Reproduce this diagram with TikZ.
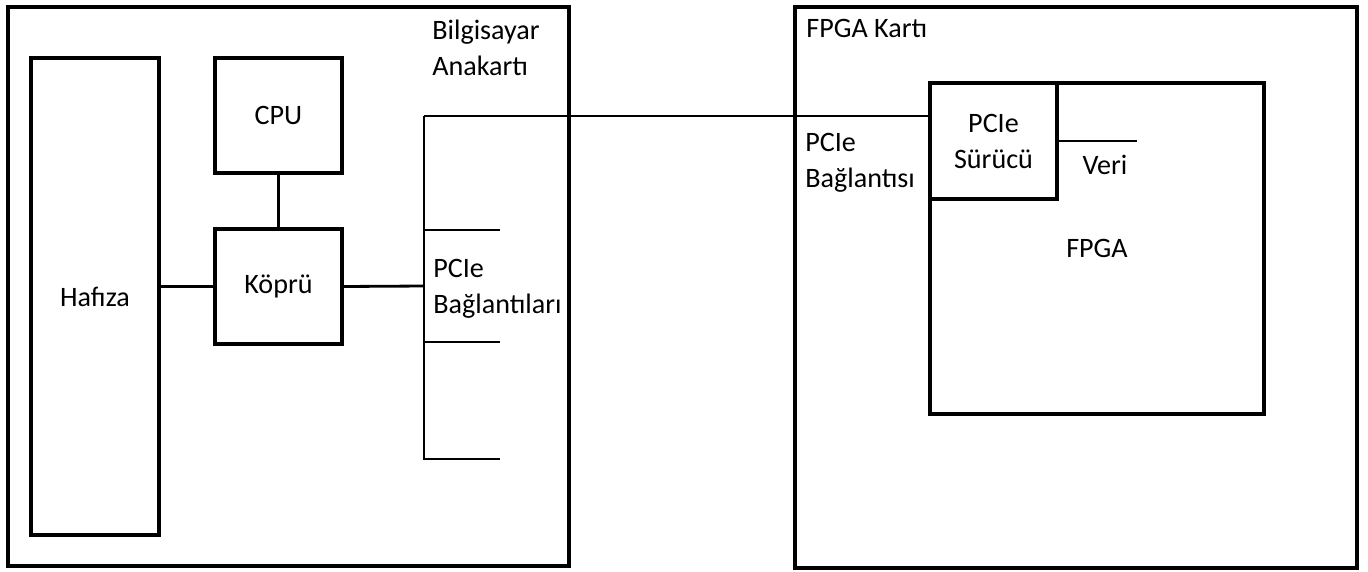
\documentclass[tikz,border=0pt]{standalone}
\usepackage{fontspec}
\setmainfont{Carlito}
\usepackage{tikz}

\begin{document}
\begin{tikzpicture}[x=0.02cm, y=-0.02cm,
    font=\fontsize{16}{20.5}\selectfont,
    box/.style={draw, line width=2.3pt, rectangle, inner sep=0pt},
    wire/.style={line width=1.6pt},
    lbl/.style={align=left, anchor=north west, inner sep=0pt}]
  \useasboundingbox (0,0) rectangle (1368,571);
  \node[box, minimum width=561*0.02cm, minimum height=559*0.02cm] (board) at (288.5,286.5) {};
  \node[box, minimum width=562*0.02cm, minimum height=561*0.02cm] (card) at (1076,287.5) {};
  \node[box, minimum width=128*0.02cm, minimum height=477*0.02cm] (hafiza) at (95,296.5) {Hafıza};
  \node[box, minimum width=127*0.02cm, minimum height=115*0.02cm] (cpu) at (278.5,115.5) {CPU};
  \node[box, minimum width=127*0.02cm, minimum height=115*0.02cm] (kopru) at (278.5,286.5) {Köprü};
  \node[box, minimum width=334*0.02cm, minimum height=331*0.02cm] (fpga) at (1097,248.5) {FPGA};
  \node[box, fill=white, minimum width=127*0.02cm, minimum height=116*0.02cm, align=center] (surucu) at (993.5,141) {PCIe\\Sürücü};
  \node[lbl] (boardlbl) at (432,20) {Bilgisayar\\Anakartı};
  \node[lbl] (slotlbl) at (433,259) {PCIe\\Bağlantıları};
  \node[lbl] (cardlbl) at (806,19) {FPGA Kartı};
  \node[lbl] (linklbl) at (805,133) {PCIe\\Bağlantısı};
  \node (veri) at (1105,165) {Veri};
  \coordinate (bustop) at (424,116);
  \coordinate (busmid) at (424,286);
  \coordinate (busbot) at (424,459);
  \coordinate (slot1) at (500,230);
  \coordinate (slot2) at (500,342);
  \coordinate (slot3) at (500,459);
  \coordinate (veriend) at (1137,141);
  \draw[wire] (cpu) -- (kopru);
  \draw[wire] (kopru.west) -- (hafiza.east |- kopru.west);
  \draw[wire] (kopru.east) -- (busmid);
  \draw[wire] (bustop) -- (busbot) -- (slot3);
  \draw[wire] (bustop |- slot1) -- (slot1);
  \draw[wire] (bustop |- slot2) -- (slot2);
  \draw[wire] (bustop) -- (bustop -| surucu.west);
  \draw[wire] (surucu.east) -- (veriend);
\end{tikzpicture}
\end{document}
